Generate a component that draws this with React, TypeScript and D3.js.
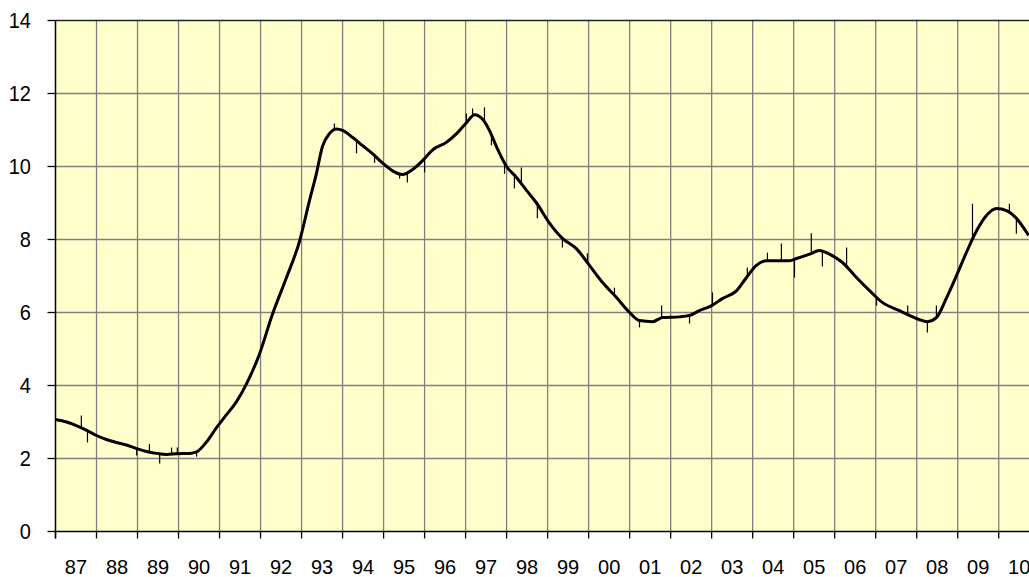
import * as d3 from 'd3'
import React from 'react'

// smoothed series: [decimal year, value]
const trend: [number, number][] = [
  [1987.0, 3.07], [1987.27, 3.0], [1987.51, 2.9], [1987.76, 2.77],
  [1988.0, 2.63], [1988.24, 2.52], [1988.49, 2.44], [1988.73, 2.37],
  [1988.98, 2.27], [1989.22, 2.19], [1989.46, 2.14], [1989.71, 2.11],
  [1989.95, 2.13], [1990.27, 2.14], [1990.44, 2.18], [1990.68, 2.45],
  [1990.93, 2.85], [1991.17, 3.2], [1991.41, 3.55], [1991.66, 4.05],
  [1991.97, 4.85], [1992.29, 5.95], [1992.63, 6.95], [1992.95, 7.95],
  [1993.19, 9.05], [1993.36, 9.8], [1993.51, 10.55], [1993.68, 10.9],
  [1993.85, 11.03], [1994.0, 10.99], [1994.24, 10.8], [1994.49, 10.57],
  [1994.73, 10.35], [1994.97, 10.1], [1995.22, 9.88], [1995.46, 9.78],
  [1995.71, 9.92], [1995.95, 10.16], [1996.19, 10.45], [1996.53, 10.66],
  [1996.78, 10.9], [1997.02, 11.2], [1997.22, 11.42], [1997.41, 11.3],
  [1997.58, 10.99], [1997.75, 10.55], [1998.0, 10.0], [1998.24, 9.7],
  [1998.49, 9.34], [1998.73, 9.0], [1999.05, 8.44], [1999.36, 8.03],
  [1999.7, 7.75], [2000.02, 7.29], [2000.34, 6.82], [2000.68, 6.41],
  [2001.0, 6.0], [2001.24, 5.78], [2001.56, 5.75], [2001.8, 5.86],
  [2002.22, 5.88], [2002.46, 5.92], [2002.7, 6.05], [2003.0, 6.19],
  [2003.26, 6.38], [2003.61, 6.6], [2003.85, 6.96], [2004.09, 7.29],
  [2004.34, 7.42], [2004.9, 7.42], [2005.07, 7.48], [2005.39, 7.6],
  [2005.63, 7.7], [2005.87, 7.6], [2006.19, 7.37], [2006.53, 6.96],
  [2006.85, 6.6], [2007.17, 6.27], [2007.58, 6.05], [2007.82, 5.92],
  [2008.07, 5.8], [2008.26, 5.75], [2008.48, 5.86], [2008.73, 6.41],
  [2008.97, 7.01], [2009.21, 7.64], [2009.46, 8.24], [2009.7, 8.66],
  [2009.95, 8.85], [2010.19, 8.79], [2010.43, 8.58], [2010.73, 8.11],
]

// monthly outliers sticking out of the smooth line: [decimal year, tip value]
const spikes: [number, number][] = [
  [1987.63, 3.18], [1987.78, 2.44], [1988.98, 2.08], [1989.29, 2.4],
  [1989.54, 1.86], [1989.83, 2.3], [1989.97, 2.3], [1990.44, 2.05],
  [1993.49, 10.36], [1993.8, 11.18], [1994.34, 10.36], [1994.78, 10.1],
  [1995.39, 9.67], [1995.58, 9.56], [1996.0, 9.84], [1997.02, 11.45],
  [1997.17, 11.59], [1997.46, 11.62], [1997.63, 10.58], [1997.95, 9.8],
  [1998.19, 9.4], [1998.36, 9.97], [1998.75, 8.58], [1999.36, 7.78],
  [1999.97, 7.62], [2000.63, 6.68], [2001.24, 5.59], [2001.78, 6.19],
  [2002.46, 5.7], [2003.02, 6.55], [2003.87, 7.23], [2004.36, 7.64],
  [2004.7, 7.89], [2005.02, 6.96], [2005.43, 8.17], [2005.7, 7.26],
  [2006.29, 7.78], [2007.02, 6.19], [2007.78, 6.19], [2008.26, 5.45],
  [2008.48, 6.19], [2009.36, 8.98], [2010.26, 8.98], [2010.43, 8.16],
]

const yTicks = [0, 2, 4, 6, 8, 10, 12, 14]
const years = d3.range(1987, 2012)
const yearLabels = ['87', '88', '89', '90', '91', '92', '93', '94', '95', '96', '97', '98',
  '99', '00', '01', '02', '03', '04', '05', '06', '07', '08', '09', '10']

const W = 1029
const H = 577
const left = 55.5
const step = 41.01

export default function App() {
  const x = d3.scaleLinear().domain([1987, 2011]).range([left, left + 24 * step])
  const y = d3.scaleLinear().domain([0, 14]).range([531.5, 20.5])

  const line = d3
    .line<[number, number]>()
    .x(d => x(d[0]))
    .y(d => y(d[1]))
    .curve(d3.curveMonotoneX)

  // value of the smooth line at a given year, used as the foot of each spike
  const baseAt = (t: number) => {
    const i = d3.bisector((d: [number, number]) => d[0]).left(trend, t)
    if (i <= 0) return trend[0][1]
    if (i >= trend.length) return trend[trend.length - 1][1]
    const a = trend[i - 1]
    const b = trend[i]
    return a[1] + ((t - a[0]) / (b[0] - a[0])) * (b[1] - a[1])
  }

  const font = '"Liberation Sans", Arial, sans-serif'
  const labelY = 566

  return (
    <svg
      width={W}
      height={H}
      style={{ position: 'absolute', left: 0, top: 0, background: '#fff' }}
    >
      <rect x={left} y={y(14)} width={W - left} height={y(0) - y(14)} fill="#FFFFCC" />

      {/* horizontal grid */}
      {yTicks.slice(1, -1).map(v => (
        <line key={'h' + v} x1={left} x2={W} y1={y(v)} y2={y(v)} stroke="#808080" strokeWidth={1.3} />
      ))}
      {/* vertical grid */}
      {years.slice(1).map(yr => (
        <line key={'v' + yr} x1={x(yr)} x2={x(yr)} y1={y(14)} y2={y(0)} stroke="#808080" strokeWidth={1.3} />
      ))}
      <line x1={left} x2={W} y1={y(14)} y2={y(14)} stroke="#222" strokeWidth={1.3} />

      {/* spikes */}
      {spikes.map((s, i) => (
        <line key={'s' + i} x1={x(s[0])} x2={x(s[0])} y1={y(baseAt(s[0]))} y2={y(s[1])} stroke="#000" strokeWidth={1.2} />
      ))}

      <path d={line(trend) ?? ''} fill="none" stroke="#000" strokeWidth={3} strokeLinejoin="round" />

      {/* axes */}
      <line x1={left} x2={left} y1={y(14) - 0.5} y2={y(0) + 7} stroke="#000" strokeWidth={1.5} />
      <line x1={left} x2={W} y1={y(0)} y2={y(0)} stroke="#000" strokeWidth={1.5} />
      {yTicks.map(v => (
        <g key={'yt' + v}>
          <line x1={left - 8} x2={left} y1={y(v)} y2={y(v)} stroke="#000" strokeWidth={1.3} />
          <text
            x={31}
            y={y(v)}
            dy="0.36em"
            textAnchor="end"
            fontFamily={font}
            fontSize={20}
            fill="#000"
            transform={`translate(0 ${y(v)}) scale(1 1.1) translate(0 ${-y(v)})`}
          >
            {v}
          </text>
        </g>
      ))}
      {years.map(yr => (
        <line key={'xt' + yr} x1={x(yr)} x2={x(yr)} y1={y(0)} y2={y(0) + 7} stroke="#000" strokeWidth={1.3} />
      ))}
      {yearLabels.map((lab, i) => (
        <text
          key={'xl' + lab}
          x={x(1987 + i + 0.5)}
          y={labelY}
          dy="0.36em"
          textAnchor="middle"
          fontFamily={font}
          fontSize={20}
          fill="#000"
          transform={`translate(0 ${labelY}) scale(1 1.05) translate(0 ${-labelY})`}
        >
          {lab}
        </text>
      ))}
    </svg>
  )
}
